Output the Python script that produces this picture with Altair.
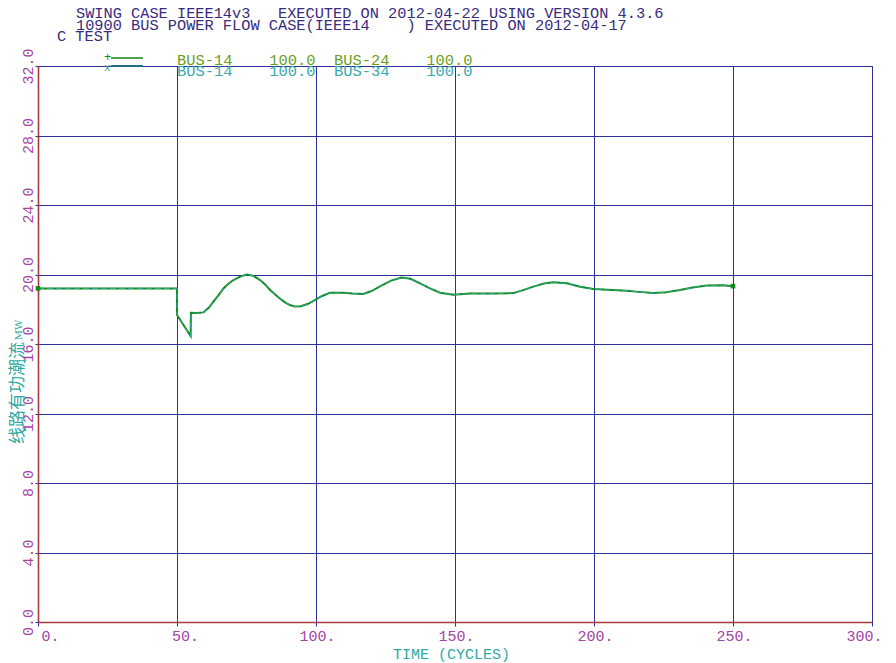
import altair as alt
import pandas as pd

# ---- data ----
time_cycles = [0, 50, 50, 54.9, 55.0, 57, 59.5, 61.5, 63.1, 65, 66.7, 68.5, 70.3, 72.7, 75.1,
               77.5, 79.9, 81.7, 83.5, 85.3, 87.1, 89, 90.6, 92.4, 94.5, 97, 99.6, 102, 105,
               109.8, 113, 117, 120, 123, 127, 130.8, 134, 137.4, 141, 144.6, 149.4, 155.4,
               165, 171, 174.5, 178.2, 182, 185.4, 190.2, 195, 199.8, 205, 211.8, 216, 221.3,
               226, 230.9, 235.5, 240.5, 246.5, 250]
p_bus14_24 = [19.2, 19.2, 17.67, 16.46, 17.8, 17.78, 17.82, 18.1, 18.44, 18.83, 19.2, 19.47,
              19.68, 19.88, 20.0, 19.92, 19.68, 19.42, 19.11, 18.85, 18.6, 18.38, 18.24, 18.16,
              18.17, 18.3, 18.52, 18.75, 18.95, 18.95, 18.9, 18.88, 19.05, 19.32, 19.65, 19.82,
              19.75, 19.49, 19.2, 18.95, 18.83, 18.9, 18.9, 18.93, 19.1, 19.3, 19.48, 19.55,
              19.49, 19.3, 19.16, 19.12, 19.07, 19.0, 18.93, 18.98, 19.11, 19.25, 19.37, 19.38,
              19.33]
p_bus14_34 = [19.2, 19.2, 17.67, 16.46, 17.8, 17.78, 17.82, 18.1, 18.44, 18.83, 19.2, 19.47,
              19.68, 19.88, 20.0, 19.92, 19.68, 19.42, 19.11, 18.85, 18.6, 18.38, 18.24, 18.16,
              18.17, 18.3, 18.52, 18.75, 18.95, 18.95, 18.9, 18.88, 19.05, 19.32, 19.65, 19.82,
              19.75, 19.49, 19.2, 18.95, 18.83, 18.9, 18.9, 18.93, 19.1, 19.3, 19.48, 19.55,
              19.49, 19.3, 19.16, 19.12, 19.07, 19.0, 18.93, 18.98, 19.11, 19.25, 19.37, 19.38,
              19.33]
series_names = ["BUS-14 BUS-24", "BUS-14 BUS-34"]
header_lines = ["SWING CASE IEEE14v3   EXECUTED ON 2012-04-22 USING VERSION 4.3.6",
                "10900 BUS POWER FLOW CASE(IEEE14    ) EXECUTED ON 2012-04-17",
                "C TEST"]
legend_labels = ["BUS-14    100.0  BUS-24    100.0",
                 "BUS-14    100.0  BUS-34    100.0"]
x_ticks = [0, 50, 100, 150, 200, 250, 300]
y_ticks = [0, 4, 8, 12, 16, 20, 24, 28, 32]
x_title = "TIME (CYCLES)"
y_title_cn = "线路有功潮流"
y_title_unit = "MW"

# ---- styles ----
GREEN = "#138a16"
TEAL = "#2ea9a3"
NAVY = "#2e2e9c"
RED = "#a8393c"
PURPLE = "#a343a6"
HEAD = "#3a2c7c"
LEG1 = "#6a9f1e"
LEG2 = "#38a9ad"
MONO = "Liberation Mono"

assert len(time_cycles) == len(p_bus14_24) == len(p_bus14_34)

rows = []
for t, a, b in zip(time_cycles, p_bus14_24, p_bus14_34):
    rows.append({"t": t, "v": a, "s": series_names[0]})
    rows.append({"t": t, "v": b, "s": series_names[1]})
df = pd.DataFrame(rows)
df["i"] = df.groupby("s").cumcount()

ends = pd.DataFrame({"t": [time_cycles[0], time_cycles[-1]],
                     "v": [p_bus14_24[0], p_bus14_24[-1]]})

xscale = alt.Scale(domain=[0, 300], nice=False, zero=False)
yscale = alt.Scale(domain=[0, 32], nice=False, zero=False)

xaxis = alt.Axis(values=x_ticks, labelExpr="datum.value + '.'", labelColor=PURPLE,
                 labelFont=MONO, labelFontSize=15, labelAlign="center",
                 labelBaseline="middle", labelPadding=9, tickColor=NAVY, tickSize=4,
                 labelOffset={"condition": [{"test": "datum.value == 300", "value": -8},
                                            {"test": "datum.value == 0", "value": 12},
                                            {"test": "datum.value == 50", "value": 8}],
                              "value": 1},
                 domainColor=RED, domainWidth=1.6, gridColor=NAVY, gridWidth=1,
                 gridOpacity=1, title=x_title, titleColor=TEAL, titleFont=MONO,
                 titleFontSize=15, titleFontWeight="normal", titleX=413, titleY=31,
                 titleAlign="center", titleBaseline="middle", labelOverlap=False)
yaxis = alt.Axis(values=y_ticks, format=".1f", labelColor=PURPLE, labelFont=MONO,
                 labelFontSize=15, labelAngle=270, labelAlign="center",
                 labelBaseline="bottom", labelPadding=0, tickColor=NAVY, tickSize=3,
                 domainColor=RED, domainWidth=1.6, gridColor=NAVY, gridWidth=1,
                 gridOpacity=1, title=None, labelOverlap=False)

line_green = alt.Chart(df[df["s"] == series_names[0]]).mark_line(
    color=GREEN, strokeWidth=2.0).encode(
    x=alt.X("t:Q", scale=xscale, axis=xaxis),
    y=alt.Y("v:Q", scale=yscale, axis=yaxis),
    order="i:Q")
line_teal = alt.Chart(df[df["s"] == series_names[1]]).mark_line(
    color=TEAL, strokeWidth=1.0, strokeDash=[6, 3]).encode(
    x=alt.X("t:Q", scale=xscale),
    y=alt.Y("v:Q", scale=yscale),
    order="i:Q")
markers = alt.Chart(ends).mark_point(shape="square", filled=True, size=22,
                                     color=GREEN, opacity=1).encode(
    x=alt.X("t:Q", scale=xscale), y=alt.Y("v:Q", scale=yscale))

one = pd.DataFrame({"a": [0]})
NB = "\u00a0"


def txt(s, x, y, color, size=15.3, font=MONO, align="left", angle=0):
    return alt.Chart(one).mark_text(text=s.replace(" ", NB), color=color, font=font,
                                    fontSize=size, align=align, baseline="middle",
                                    angle=angle).encode(
        x=alt.value(x), y=alt.value(y))


texts = [
    txt(header_lines[0], 38, -53, HEAD),
    txt(header_lines[1], 38, -41, HEAD),
    txt(header_lines[2], 19, -30, HEAD),
    txt(legend_labels[0], 139, -6, LEG1, size=15.4),
    txt(legend_labels[1], 139, 5, LEG2, size=15.4),
    txt("+", 66, -9, GREEN, size=12),
    txt("x", 66, 2, TEAL, size=11),
    # y-axis title: Chinese part and a smaller unit, rotated
    txt(y_title_cn, -20, 327, TEAL, size=17, font="Noto Sans CJK SC",
        align="center", angle=270),
    txt(y_title_unit, -19, 264, TEAL, size=10, font="DejaVu Serif",
        align="center", angle=270),
]
leg_lines = [
    alt.Chart(one).mark_rule(color=GREEN, strokeWidth=1.5).encode(
        x=alt.value(73), x2=alt.value(105), y=alt.value(-8)),
    alt.Chart(one).mark_rule(color="#1f6f86", strokeWidth=2).encode(
        x=alt.value(73), x2=alt.value(105), y=alt.value(0)),
]

chart = alt.layer(line_green, line_teal, markers, *leg_lines, *texts).properties(
    width=834, height=556,
    autosize=alt.AutoSizeParams(type="none"),
    padding={"left": 30, "top": 58, "right": 16, "bottom": 40},
    background="white",
).configure_view(stroke=NAVY, strokeWidth=1)

chart.save("out.html", embed_options={"renderer": "svg", "actions": False})
